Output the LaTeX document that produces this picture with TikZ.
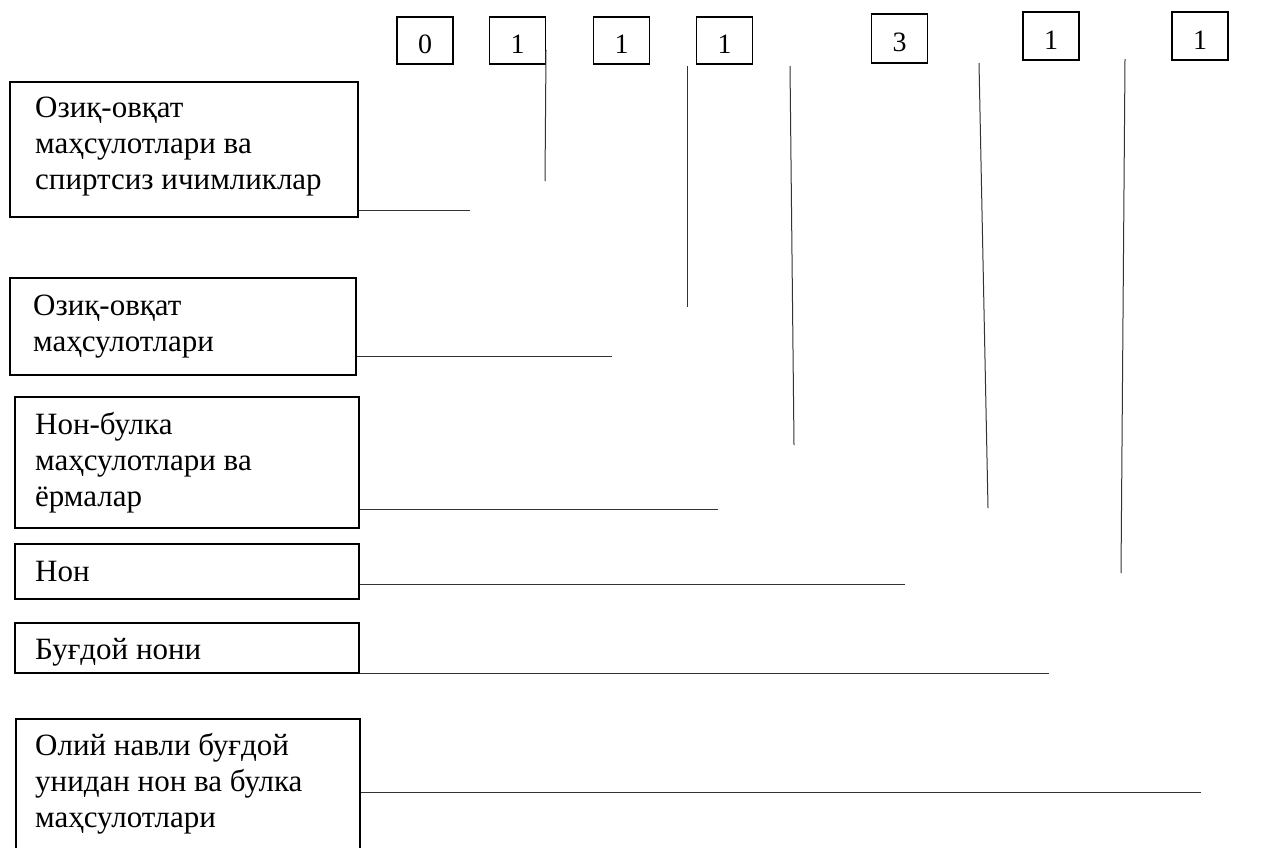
\documentclass[tikz,border=0pt]{standalone}
\usepackage{fontspec}
\setmainfont{Liberation Serif}
\usepackage{tikz}
\usetikzlibrary{calc}
\tikzstyle{catbox}=[draw,line width=1.6pt,anchor=north west,inner sep=0pt,minimum width=346pt]
\tikzstyle{cattext}=[anchor=north west,inner sep=0pt,align=left,font=\fontsize{31}{36}\selectfont]
\tikzstyle{digbox}=[draw,line width=1.3pt,minimum width=56pt,inner sep=1pt,text height=26pt,text depth=0pt,font=\fontsize{28}{32}\selectfont]
\tikzstyle{lead}=[line width=1pt,draw=black!80]
\newcommand{\topstrut}{\rule{0pt}{26pt}}

\begin{document}
\begin{tikzpicture}[x=1pt,y=-1pt]
	\useasboundingbox (0,0) rectangle (1268,847);

	% code digits
	\node[digbox,minimum height=47pt] (d0) at (425,40.5) {0};
	\node[digbox,minimum height=47pt] (d1) at (517.5,40.5) {1};
	\node[digbox,minimum height=47pt] (d2) at (621.5,40.5) {1};
	\node[digbox,minimum height=47pt] (d3) at (724.5,40.5) {1};
	\node[digbox,minimum height=49pt] (d4) at (899.5,38.5) {3};
	\node[digbox,minimum height=48pt] (d5) at (1051,36) {1};
	\node[digbox,minimum height=48pt] (d6) at (1200,36) {1};

	% levels
	\node[catbox,minimum width=348pt,minimum height=135pt] (oziqichim) at (9,81) {};
	\node[cattext] (toziqichim) at ($(oziqichim.north west)+(26,10)$) {\topstrut Озиқ-овқат\\маҳсулотлари ва\\спиртсиз ичимликлар};

	\node[catbox,minimum height=97pt] (oziq) at (9,277) {};
	\node[cattext] (toziq) at ($(oziq.north west)+(24,12)$) {\topstrut Озиқ-овқат\\маҳсулотлари};

	\node[catbox,minimum width=344pt,minimum height=131pt] (nonbulka) at (14,396) {};
	\node[cattext] (tnonbulka) at ($(nonbulka.north west)+(21,12)$) {\topstrut Нон-булка\\маҳсулотлари ва\\ёрмалар};

	\node[catbox,minimum width=344pt,minimum height=55pt] (non) at (14,543) {};
	\node[cattext] (tnon) at ($(non.north west)+(21,12)$) {\topstrut Нон};

	\node[catbox,minimum width=344pt,minimum height=50pt] (bugdoy) at (14,622) {};
	\node[cattext] (tbugdoy) at ($(bugdoy.north west)+(21,11)$) {\topstrut Буғдой нони};

	\node[catbox,minimum width=344pt,minimum height=140pt] (oliy) at (15,718) {};
	\node[cattext] (toliy) at ($(oliy.north west)+(20,11)$) {\topstrut Олий навли буғдой\\унидан нон ва булка\\маҳсулотлари};

	% horizontal leads
	\coordinate (e1) at (470,210);
	\coordinate (e2) at (612,356);
	\coordinate (e3) at (718,509);
	\coordinate (e4) at (905,584);
	\coordinate (e5) at (1049,673);
	\coordinate (e6) at (1201,792);
	\draw[lead] (e1 -| oziqichim.east) -- (e1);
	\draw[lead] (e2 -| oziq.east) -- (e2);
	\draw[lead] (e3 -| nonbulka.east) -- (e3);
	\draw[lead] (e4 -| non.east) -- (e4);
	\draw[lead] (e5 -| bugdoy.east) -- (e5);
	\draw[lead] (e6 -| oliy.east) -- (e6);

	% vertical leads
	\coordinate (v1) at (546,50);
	\coordinate (w1) at (545,181);
	\coordinate (v2) at (687,66);
	\coordinate (w2) at (687,307);
	\coordinate (v3) at (790,66);
	\coordinate (w3) at (794,445);
	\coordinate (v4) at (979,63);
	\coordinate (w4) at (988,508);
	\coordinate (v5) at (1125,59);
	\coordinate (w5) at (1121,573);
	\draw[lead] (v1) -- (w1);
	\draw[lead] (v2) -- (w2);
	\draw[lead] (v3) -- (w3);
	\draw[lead] (v4) -- (w4);
	\draw[lead] (v5) -- (w5);
\end{tikzpicture}
\end{document}
